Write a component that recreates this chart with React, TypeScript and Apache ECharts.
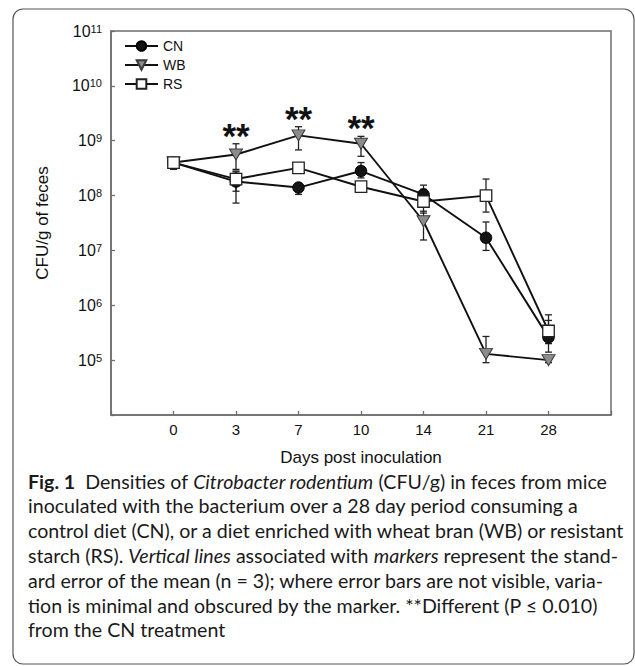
import React, { useEffect, useRef } from 'react';
import * as echarts from 'echarts';

// ---- data ----
const days = ['0', '3', '7', '10', '14', '21', '28'];
const seriesNames = ['CN', 'WB', 'RS'];

const cnMean = [4.0e8, 1.8e8, 1.4e8, 2.8e8, 1.05e8, 1.7e7, 2.6e5];
const cnLow = [3.0e8, 7.3e7, 1.05e8, 2.1e8, 8.0e7, 1.0e7, 1.4e5];
const cnHigh = [4.6e8, 2.8e8, 1.6e8, 4.0e8, 1.55e8, 3.3e7, 5.3e5];

const wbMean = [4.0e8, 5.6e8, 1.25e9, 8.8e8, 3.4e7, 1.3e5, 1.0e5];
const wbLow = [3.4e8, 3.0e8, 6.8e8, 5.2e8, 1.55e7, 9.0e4, 9.0e4];
const wbHigh = [4.5e8, 8.8e8, 1.8e9, 1.2e9, 5.2e7, 2.7e5, 1.1e5];

const rsMean = [4.0e8, 2.0e8, 3.2e8, 1.45e8, 7.8e7, 1.0e8, 3.4e5];
const rsLow = [3.4e8, 1.2e8, 2.8e8, 1.15e8, 4.8e7, 5.0e7, 2.0e5];
const rsHigh = [4.6e8, 2.7e8, 3.6e8, 1.7e8, 1.3e8, 2.0e8, 6.7e5];

// day indices where WB differs from CN (marked "**")
const sigIdx = [1, 2, 3];

const xAxisName = 'Days post inoculation';
const yAxisName = 'CFU/g of feces';

const captionLines = [
  '{b|Fig. 1}  Densities of {i|Citrobacter rodentium} (CFU/g) in feces from mice',
  'inoculated with the bacterium over a 28 day period consuming a',
  'control diet (CN), or a diet enriched with wheat bran (WB) or resistant',
  'starch (RS). {i|Vertical lines} associated with {i|markers} represent the stand-',
  'ard error of the mean (n = 3); where error bars are not visible, varia-',
  'tion is minimal and obscured by the marker. **Different (P ≤ 0.010)',
  'from the CN treatment',
];

const AX = 'Liberation Sans, Arial, sans-serif';
const CAP = 'Lato, "Open Sans", sans-serif';
const CAP_SIZE = 19.6;

export default function App() {
  const ref = useRef<HTMLDivElement>(null);
  useEffect(() => {
    if (!ref.current) return;
    const chart = echarts.init(ref.current, undefined, { renderer: 'svg' });

    const pts = (m: number[]) => m.map((v, i) => [i, v]);
    const errData = (lo: number[], hi: number[]) => lo.map((l, i) => [i, l, hi[i]]);

    const errSeries = (lo: number[], hi: number[]) => ({
      type: 'custom',
      z: 1,
      silent: true,
      data: errData(lo, hi),
      renderItem: (params: any, api: any) => {
        const x = api.value(0);
        const a = api.coord([x, api.value(1)]);
        const b = api.coord([x, api.value(2)]);
        const w = 3.5;
        const st = { stroke: '#222', lineWidth: 1.3 };
        return {
          type: 'group',
          children: [
            { type: 'line', shape: { x1: a[0], y1: a[1], x2: b[0], y2: b[1] }, style: st },
            { type: 'line', shape: { x1: a[0] - w, y1: a[1], x2: a[0] + w, y2: a[1] }, style: st },
            { type: 'line', shape: { x1: b[0] - w, y1: b[1], x2: b[0] + w, y2: b[1] }, style: st },
          ],
        };
      },
    });

    const lineStyle = { color: '#111', width: 1.9 };

    const option: any = {
      animation: false,
      grid: {
        left: 111,
        top: 31,
        right: 24,
        bottom: 251,
        show: true,
        borderColor: '#6e6e6e',
        borderWidth: 1.5,
      },
      legend: {
        data: seriesNames,
        orient: 'vertical',
        left: 119,
        top: 34,
        itemWidth: 33,
        itemHeight: 12,
        itemGap: 5,
        textStyle: { fontSize: 14, fontFamily: AX, color: '#111', lineHeight: 14 },
      },
      xAxis: {
        type: 'value',
        min: -1,
        max: 7,
        interval: 1,
        name: xAxisName,
        nameLocation: 'middle',
        nameGap: 34,
        nameTextStyle: { fontSize: 17, fontFamily: AX, color: '#111' },
        axisLine: { show: true, onZero: false, lineStyle: { color: '#6e6e6e', width: 1.5 } },
        axisTick: { show: true, inside: true, length: 4, lineStyle: { color: '#6e6e6e', width: 1.3 } },
        axisLabel: {
          formatter: (v: number) => days[v] ?? '',
          fontSize: 15,
          fontFamily: AX,
          color: '#111',
          margin: 7,
        },
        splitLine: { show: false },
      },
      yAxis: {
        type: 'log',
        logBase: 10,
        min: 1e4,
        max: 1e11,
        interval: 1,
        name: yAxisName,
        nameLocation: 'middle',
        nameGap: 60,
        nameTextStyle: { fontSize: 17, fontFamily: AX, color: '#111' },
        axisLine: { show: true, onZero: false, lineStyle: { color: '#6e6e6e', width: 1.5 } },
        axisTick: { show: true, inside: true, length: 4, lineStyle: { color: '#6e6e6e', width: 1.3 } },
        axisLabel: {
          margin: 9,
          fontSize: 15,
          fontFamily: AX,
          color: '#111',
          formatter: (v: number) => {
            const e = Math.round(Math.log10(v));
            return e === 4 ? '' : `{b|10}{s|${e}}`;
          },
          rich: {
            b: { fontSize: 16, fontFamily: AX, color: '#111', lineHeight: 16, verticalAlign: 'bottom' },
            s: { fontSize: 11, fontFamily: AX, color: '#111', lineHeight: 16, padding: [0, 0, 7, 0], verticalAlign: 'top' },
          },
        },
        splitLine: { show: false },
        minorTick: { show: false },
      },
      series: [
        errSeries(cnLow, cnHigh),
        errSeries(wbLow, wbHigh),
        errSeries(rsLow, rsHigh),
        {
          name: 'CN',
          type: 'line',
          z: 3,
          data: pts(cnMean),
          symbol: 'circle',
          symbolSize: 11.5,
          lineStyle,
          itemStyle: { color: '#141414', borderColor: '#000', borderWidth: 1 },
        },
        {
          name: 'WB',
          type: 'line',
          z: 4,
          data: pts(wbMean),
          symbol: 'triangle',
          symbolRotate: 180,
          symbolSize: [13, 11],
          lineStyle,
          itemStyle: { color: '#8c8c8c', borderColor: '#3a3a3a', borderWidth: 1 },
        },
        {
          name: 'RS',
          type: 'line',
          z: 5,
          data: pts(rsMean),
          symbol: 'rect',
          symbolSize: 11.5,
          lineStyle,
          itemStyle: { color: '#ffffff', borderColor: '#222', borderWidth: 1.3 },
        },
        {
          type: 'custom',
          z: 6,
          silent: true,
          data: sigIdx.map((i) => [i, wbHigh[i]]),
          renderItem: (params: any, api: any) => {
            const c = api.coord([api.value(0), api.value(1)]);
            return {
              type: 'text',
              x: c[0],
              y: c[1] + 9,
              style: {
                text: '**',
                fontSize: 35,
                fontWeight: 'bold',
                fontFamily: AX,
                fill: '#111',
                align: 'center',
                verticalAlign: 'bottom',
              },
            };
          },
        },
      ],
      graphic: [
        {
          type: 'rect',
          shape: { x: 13, y: 9, width: 621, height: 655, r: 10 },
          style: { fill: 'none', stroke: '#555', lineWidth: 1.2 },
          silent: true,
        },
        ...captionLines.map((t, k) => ({
          type: 'text',
          x: 28,
          y: 481 + k * 24.8,
          silent: true,
          style: {
            text: t,
            fontSize: CAP_SIZE,
            fontFamily: CAP,
            fill: '#1a1a1a',
            verticalAlign: 'middle',
            rich: {
              b: { fontSize: CAP_SIZE, fontFamily: CAP, fontWeight: 'bold', fill: '#1a1a1a' },
              i: { fontSize: CAP_SIZE, fontFamily: CAP, fontStyle: 'italic', fill: '#1a1a1a' },
            },
          },
        })),
      ],
    };

    chart.setOption(option);
    return () => chart.dispose();
  }, []);

  return (
    <div
      ref={ref}
      style={{ position: 'absolute', left: 0, top: 0, width: 635, height: 666, background: '#fff' }}
    />
  );
}
